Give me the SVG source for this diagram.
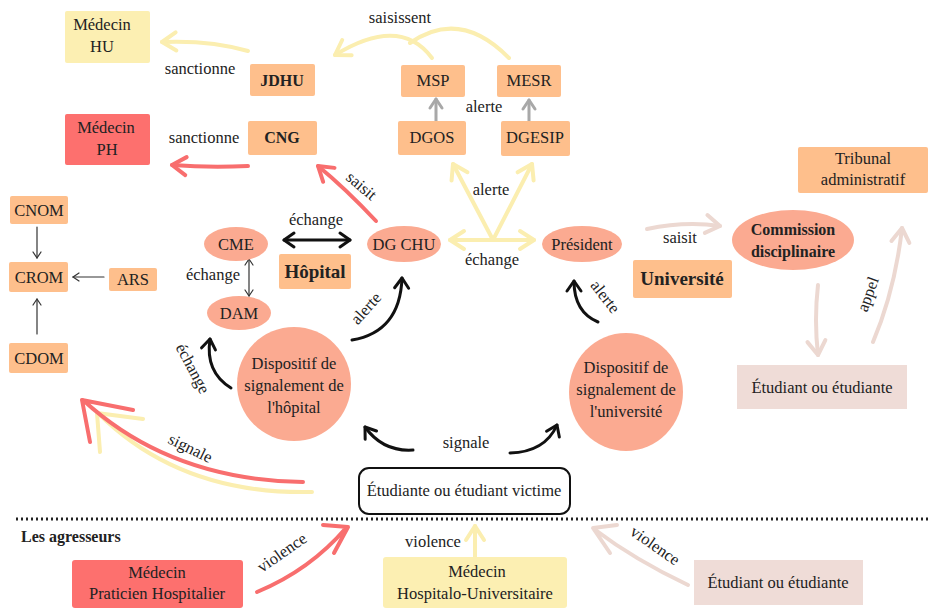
<svg xmlns="http://www.w3.org/2000/svg" width="930" height="608" viewBox="0 0 930 608">
<style>
text{font-family:'Liberation Serif','Times New Roman',Times,'DejaVu Serif',serif;font-size:16.5px;fill:#222;text-anchor:middle}
.b{font-weight:bold;font-size:16px}
.big{font-size:19px;font-weight:bold}
.or{fill:#febf8c}
.sa{fill:#fbaa91}
.rd{fill:#fd706e}
.ye{fill:#fcefb2}
.pk{fill:#efdcd7}
.c{fill:none;stroke-linecap:round;stroke-linejoin:round}
.cy{stroke:#fbeeb0;stroke-width:4}
.cr{stroke:#f86e6e;stroke-width:4}
.cp{stroke:#ecd8d1;stroke-width:4}
.cg{stroke:#a8a8a8;stroke-width:3}
.ck{stroke:#111;stroke-width:3}
.ct{stroke:#333;stroke-width:1.2}
</style>
<defs>
<marker id="my" markerUnits="userSpaceOnUse" viewBox="0 0 24 24" markerWidth="24" markerHeight="24" refX="20" refY="12" orient="auto-start-reverse"><path d="M6,3 L20,12 L6,21" fill="none" stroke="#fbeeb0" stroke-width="4" stroke-linecap="round" stroke-linejoin="round"/></marker>
<marker id="mr" markerUnits="userSpaceOnUse" viewBox="0 0 24 24" markerWidth="24" markerHeight="24" refX="20" refY="12" orient="auto"><path d="M6,3 L20,12 L6,21" fill="none" stroke="#f86e6e" stroke-width="4" stroke-linecap="round" stroke-linejoin="round"/></marker>
<marker id="mp" markerUnits="userSpaceOnUse" viewBox="0 0 24 24" markerWidth="24" markerHeight="24" refX="20" refY="12" orient="auto"><path d="M6,3 L20,12 L6,21" fill="none" stroke="#ecd8d1" stroke-width="4" stroke-linecap="round" stroke-linejoin="round"/></marker>
<marker id="mg" markerUnits="userSpaceOnUse" viewBox="0 0 20 20" markerWidth="20" markerHeight="20" refX="16" refY="10" orient="auto"><path d="M7,4 L16,10 L7,16" fill="none" stroke="#a8a8a8" stroke-width="3" stroke-linecap="round" stroke-linejoin="round"/></marker>
<marker id="mk" markerUnits="userSpaceOnUse" viewBox="0 0 20 20" markerWidth="20" markerHeight="20" refX="16" refY="10" orient="auto-start-reverse"><path d="M6,3 L16,10 L6,17" fill="none" stroke="#111" stroke-width="3" stroke-linecap="round" stroke-linejoin="round"/></marker>
<marker id="mt" markerUnits="userSpaceOnUse" viewBox="0 0 12 12" markerWidth="12" markerHeight="12" refX="10" refY="6" orient="auto-start-reverse"><path d="M4,2 L10,6 L4,10" fill="none" stroke="#333" stroke-width="1.2" stroke-linecap="round"/></marker>
</defs>
<rect width="930" height="608" fill="#fff"/>

<g id="connectors">
<path class="c cy" d="M248,51 Q210,40 162,42" marker-end="url(#my)"/>
<path class="c cr" d="M248,166 Q210,168 172,165" marker-end="url(#mr)"/>
<path class="c cr" d="M376,221 Q345,188 318,166" marker-end="url(#mr)"/>
<path class="c cy" d="M432,58 Q400,15 335,55" marker-end="url(#my)"/>
<path class="c cy" d="M509,58 Q460,8 410,43"/>
<path class="c cg" d="M436,122 L436,99" marker-end="url(#mg)"/>
<path class="c cg" d="M529,124 L529,100" marker-end="url(#mg)"/>
<path class="c cy" d="M493,240 L453,164" marker-end="url(#my)"/>
<path class="c cy" d="M493,240 L532,164" marker-end="url(#my)"/>
<path class="c cy" d="M450,240 L534,240" marker-start="url(#my)" marker-end="url(#my)"/>
<path class="c ck" d="M284,240 L350,240" marker-start="url(#mk)" marker-end="url(#mk)"/>
<path class="c ct" d="M249,259 L249,296" marker-start="url(#mt)" marker-end="url(#mt)"/>
<path class="c ct" d="M37,227 L37,258" marker-end="url(#mt)"/>
<path class="c ct" d="M104,277 L73,277" marker-end="url(#mt)"/>
<path class="c ct" d="M37,334 L37,299" marker-end="url(#mt)"/>
<path class="c ck" d="M231,388 Q205,372 210,339" marker-end="url(#mk)"/>
<path class="c ck" d="M352,340 Q400,332 402,278" marker-end="url(#mk)"/>
<path class="c ck" d="M598,322 Q574,312 574,281" marker-end="url(#mk)"/>
<path class="c ck" d="M413,450 Q383,452 365,427" marker-end="url(#mk)"/>
<path class="c ck" d="M510,453 Q545,452 557,425" marker-end="url(#mk)"/>
<path class="c cy" d="M312,492 Q180,495 98,413 M100,452 L97,413 L143,419"/>
<path class="c cr" d="M303,482 Q170,480 83,400 M90,442 L82,400 L133,410"/>
<path class="c cr" d="M257,592 Q310,570 346,528 M323,525 L348,527 L334,553"/>
<path class="c cy" d="M475,557 L475,526" marker-end="url(#my)"/>
<path class="c cp" d="M688,585 Q635,560 594,529 M617,525 L593,528 L610,553"/>
<path class="c cp" d="M818,285 Q814,320 818,355" marker-end="url(#mp)"/>
<path class="c cp" d="M873,342 Q895,290 902,228" marker-end="url(#mp)"/>
<path class="c cp" d="M647,229 Q685,221 720,226" marker-end="url(#mp)"/>
<line x1="16" y1="519" x2="930" y2="519" stroke="#222" stroke-width="3" stroke-dasharray="2 3"/>
</g>

<g id="labels">
<text x="200" y="74">sanctionne</text>
<text x="204" y="143">sanctionne</text>
<text x="400" y="23">saisissent</text>
<text x="484" y="112">alerte</text>
<text x="491" y="195">alerte</text>
<text x="492" y="265">échange</text>
<text x="316" y="225">échange</text>
<text x="213" y="280">échange</text>
<text x="680" y="243">saisit</text>
<text transform="translate(358,190) rotate(40)">saisit</text>
<text transform="translate(370,312) rotate(-48)">alerte</text>
<text transform="translate(601,300) rotate(52)">alerte</text>
<text transform="translate(188,371) rotate(62)">échange</text>
<text transform="translate(188,453) rotate(26)">signale</text>
<text x="466" y="448">signale</text>
<text transform="translate(285,557) rotate(-35)">violence</text>
<text x="433" y="547">violence</text>
<text transform="translate(652,550) rotate(35)">violence</text>
<text transform="translate(873,296) rotate(-70)">appel</text>
<text class="b" x="21" y="542" style="text-anchor:start">Les agresseurs</text>
</g>

<g id="medecin-hu"><rect class="ye" x="65" y="11" width="85" height="52" rx="2"/><text x="102" y="30">Médecin</text><text x="102" y="52">HU</text></g>
<g id="jdhu"><rect class="or" x="250" y="64" width="65" height="32" rx="2"/><text class="b" x="282" y="86">JDHU</text></g>
<g id="medecin-ph"><rect class="rd" x="65" y="114" width="85" height="51" rx="2"/><text x="106" y="133">Médecin</text><text x="107" y="155">PH</text></g>
<g id="cng"><rect class="or" x="248" y="121" width="69" height="34" rx="2"/><text class="b" x="282" y="143">CNG</text></g>
<g id="msp"><rect class="or" x="401" y="65" width="64" height="32" rx="2"/><text x="433" y="86">MSP</text></g>
<g id="mesr"><rect class="or" x="497" y="65" width="64" height="32" rx="2"/><text x="529" y="86">MESR</text></g>
<g id="dgos"><rect class="or" x="398" y="121" width="68" height="34" rx="2"/><text x="432" y="143">DGOS</text></g>
<g id="dgesip"><rect class="or" x="501" y="121" width="69" height="35" rx="2"/><text x="535" y="143">DGESIP</text></g>
<g id="tribunal"><rect class="or" x="798" y="147" width="130" height="46" rx="2"/><text x="863" y="164">Tribunal</text><text x="863" y="185">administratif</text></g>
<g id="commission"><ellipse class="sa" cx="793" cy="240" rx="61" ry="30"/><text class="b" x="793" y="235">Commission</text><text class="b" x="793" y="257">disciplinaire</text></g>
<g id="universite"><rect class="or" x="633" y="260" width="99" height="38" rx="2"/><text class="big" x="682" y="285">Université</text></g>
<g id="cnom"><rect class="or" x="10" y="196" width="58" height="28" rx="2"/><text x="39" y="216">CNOM</text></g>
<g id="crom"><rect class="or" x="9" y="262" width="59" height="30" rx="2"/><text x="39" y="283">CROM</text></g>
<g id="ars"><rect class="or" x="109" y="268" width="48" height="23" rx="2"/><text x="133" y="285">ARS</text></g>
<g id="cdom"><rect class="or" x="9" y="343" width="59" height="30" rx="2"/><text x="39" y="364">CDOM</text></g>
<g id="cme"><ellipse class="sa" cx="236" cy="244" rx="32" ry="17"/><text x="236" y="250">CME</text></g>
<g id="hopital"><rect class="or" x="279" y="254" width="72" height="35" rx="2"/><text class="big" x="315" y="278">Hôpital</text></g>
<g id="dam"><ellipse class="sa" cx="239" cy="313" rx="32" ry="17"/><text x="239" y="319">DAM</text></g>
<g id="dgchu"><ellipse class="sa" cx="404" cy="244" rx="37" ry="18"/><text x="404" y="250">DG CHU</text></g>
<g id="president"><ellipse class="sa" cx="582" cy="244" rx="40" ry="18"/><text x="582" y="250">Président</text></g>
<g id="dispositif-hopital"><circle class="sa" cx="294" cy="384" r="57"/><text x="294" y="369">Dispositif de</text><text x="294" y="391">signalement de</text><text x="294" y="413">l'hôpital</text></g>
<g id="dispositif-universite"><ellipse class="sa" cx="626" cy="392" rx="57" ry="59"/><text x="626" y="373">Dispositif de</text><text x="626" y="395">signalement de</text><text x="626" y="417">l'université</text></g>
<g id="etudiant-droite"><rect class="pk" x="737" y="365" width="170" height="44"/><text x="822" y="393">Étudiant ou étudiante</text></g>
<g id="victime"><rect x="359" y="468" width="211" height="46" rx="10" fill="#fff" stroke="#111" stroke-width="2"/><text x="464" y="496">Étudiante ou étudiant victime</text></g>
<g id="agresseur-ph"><rect class="rd" x="72" y="560" width="171" height="48" rx="3"/><text x="157" y="578">Médecin</text><text x="157" y="599">Praticien Hospitalier</text></g>
<g id="agresseur-hu"><rect class="ye" x="383" y="557" width="184" height="51" rx="3"/><text x="477" y="577">Médecin</text><text x="475" y="599">Hospitalo-Universitaire</text></g>
<g id="agresseur-etudiant"><rect class="pk" x="694" y="560" width="169" height="45"/><text x="778" y="588">Étudiant ou étudiante</text></g>
</svg>
